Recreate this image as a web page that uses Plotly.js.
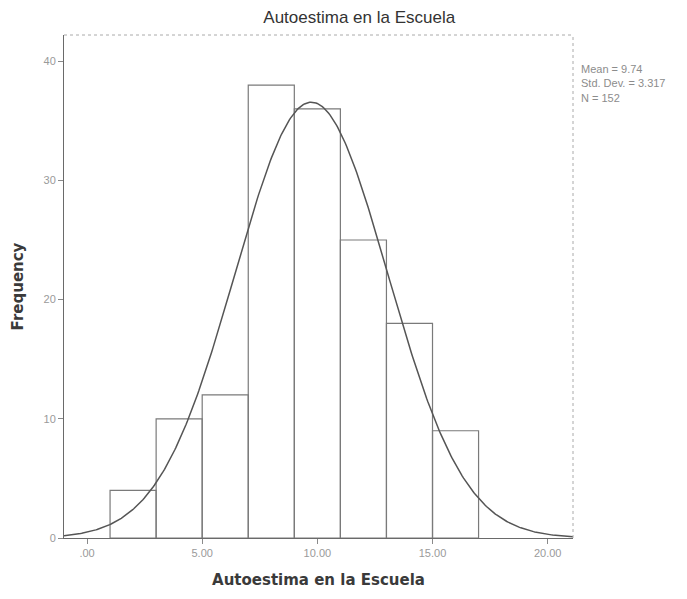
<!DOCTYPE html>
<html>
<head>
<meta charset="utf-8">
<script src="https://cdn.plot.ly/plotly-3.0.1.min.js"></script>
<style>
  html, body { margin: 0; padding: 0; background: #fff; }
  #chart { width: 687px; height: 599px; }
</style>
</head>
<body>
<div id="chart"></div>
<script>
// Histogram of "Autoestima en la Escuela" with fitted normal curve
const binCenters = [2, 4, 6, 8, 10, 12, 14, 16];
const counts = [4, 10, 12, 38, 36, 25, 18, 9];
const binWidth = 2;

const meanValue = 9.74;
const stdDev = 3.317;
const nCases = 152;

const xTickVals = [0, 5, 10, 15, 20];
const xTickText = ['.00', '5.00', '10.00', '15.00', '20.00'];
const yTickVals = [0, 10, 20, 30, 40];

// Normal density scaled to counts (N * bin width), evaluated along the axis
const curveX = [];
const curveY = [];
const scale = nCases * binWidth / (stdDev * Math.sqrt(2 * Math.PI));
for (let i = 0; i <= 400; i++) {
  const x = -1 + i * (22.1 / 400);
  curveX.push(x);
  curveY.push(scale * Math.exp(-0.5 * Math.pow((x - meanValue) / stdDev, 2)));
}

const bars = {
  type: 'bar',
  x: binCenters,
  y: counts,
  width: binWidth,
  marker: { color: 'rgba(255,255,255,0)', line: { color: '#7a7a7a', width: 1.2 } },
  hoverinfo: 'x+y'
};

const curve = {
  type: 'scatter',
  mode: 'lines',
  x: curveX,
  y: curveY,
  line: { color: '#555555', width: 1.5 },
  hoverinfo: 'skip'
};

const tickFont = { family: 'Liberation Sans, Arial, sans-serif', size: 11, color: '#9a9a9a' };
const axisTitleFont = { family: 'DejaVu Sans, Verdana, sans-serif', size: 15, color: '#3a3a3a', weight: 'bold' };

const layout = {
  width: 687,
  height: 599,
  margin: { l: 64, r: 114, t: 35, b: 61 },
  paper_bgcolor: '#ffffff',
  plot_bgcolor: '#ffffff',
  showlegend: false,
  bargap: 0,
  title: {
    text: 'Autoestima en la Escuela',
    font: { family: 'Liberation Sans, Arial, sans-serif', size: 17, color: '#333333' },
    x: 0.58, xref: 'paper', xanchor: 'center',
    y: 18, yref: 'container', yanchor: 'middle'
  },
  xaxis: {
    range: [-1, 21.1],
    tickvals: xTickVals,
    ticktext: xTickText,
    ticks: 'outside',
    ticklen: 5,
    tickcolor: '#8a8a8a',
    tickfont: tickFont,
    showgrid: false,
    zeroline: false,
    showline: true,
    linecolor: '#6a6a6a',
    linewidth: 1,
    mirror: false,
    title: {
      text: 'Autoestima en la Escuela',
      font: axisTitleFont,
      standoff: 16
    }
  },
  yaxis: {
    range: [0, 42.2],
    tickvals: yTickVals,
    ticks: 'outside',
    ticklen: 5,
    tickcolor: '#8a8a8a',
    tickfont: tickFont,
    showgrid: false,
    zeroline: false,
    showline: true,
    linecolor: '#6a6a6a',
    linewidth: 1,
    title: {
      text: 'Frequency',
      font: axisTitleFont,
      standoff: 16
    }
  },
  shapes: [
    // light dotted frame on top and right
    { type: 'line', xref: 'paper', yref: 'paper', x0: 0, x1: 1, y0: 1, y1: 1,
      line: { color: '#aaaaaa', width: 1, dash: 'dot' } },
    { type: 'line', xref: 'paper', yref: 'paper', x0: 1, x1: 1, y0: 0, y1: 1,
      line: { color: '#aaaaaa', width: 1, dash: 'dot' } }
  ],
  annotations: [
    {
      xref: 'paper', yref: 'paper', x: 1.0, y: 0.948, xanchor: 'left', yanchor: 'top',
      xshift: 6, align: 'left', showarrow: false,
      text: 'Mean = ' + meanValue.toFixed(2) + '<br>Std. Dev. = ' + stdDev.toFixed(3) + '<br>N = ' + nCases,
      font: { family: 'Liberation Sans, Arial, sans-serif', size: 11, color: '#8c8c8c' }
    }
  ]
};

Plotly.newPlot('chart', [bars, curve], layout, { displayModeBar: false, staticPlot: true });
</script>
</body>
</html>
